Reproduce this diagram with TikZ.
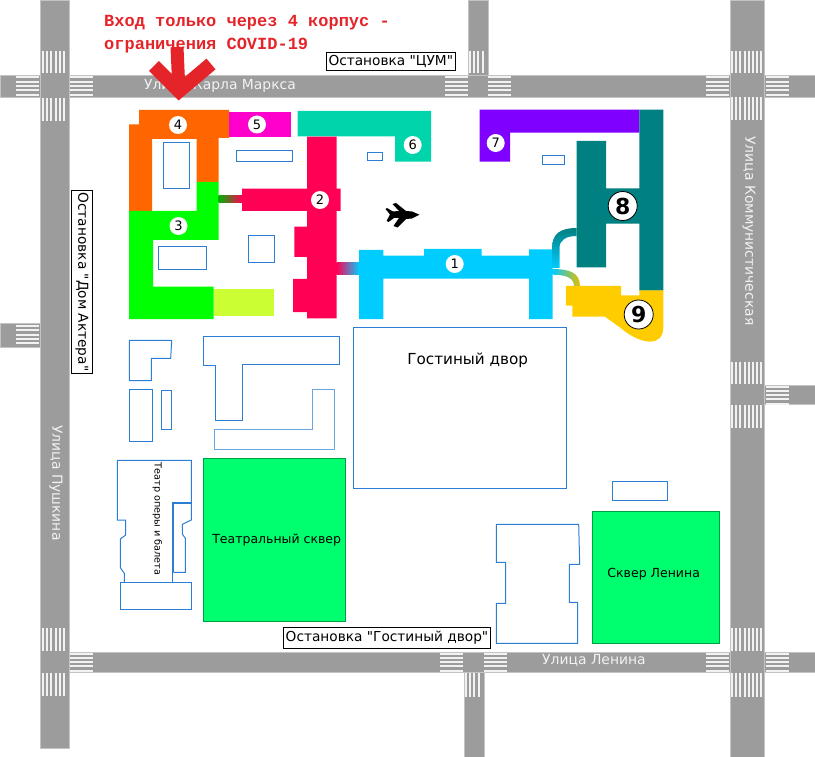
\documentclass[tikz,border=0pt]{standalone}
\usepackage{xcolor}
\usepackage{fontspec}
\setmainfont{DejaVu Sans}[Ligatures=TeXOff]
\newfontfamily\redfont{Liberation Mono}
\usetikzlibrary{positioning}
\definecolor{roadgray}{HTML}{9C9C9C}
\definecolor{zebrawhite}{HTML}{F2F2F2}
\definecolor{outlineblue}{HTML}{2A7FD4}
\definecolor{parkgreen}{HTML}{00FF6E}
\definecolor{parkedge}{HTML}{00A040}
\definecolor{korp1}{HTML}{00CCFF}
\definecolor{korp2}{HTML}{FF0055}
\definecolor{korp3}{HTML}{00FF00}
\definecolor{korp4}{HTML}{FF6600}
\definecolor{korp5}{HTML}{FF00CC}
\definecolor{korp6}{HTML}{00D4AA}
\definecolor{korp7}{HTML}{7F00FF}
\definecolor{korp8}{HTML}{008080}
\definecolor{korp9}{HTML}{FFCC00}
\definecolor{lime}{HTML}{CCFF33}
\definecolor{redmark}{HTML}{E5242A}
\tikzset{
  road/.style={fill=roadgray,draw=roadgray!60,line width=0.6pt},
  zebra/.style={draw=zebrawhite,line width=2pt},
  outl/.style={draw=outlineblue,line width=1pt},
  park/.style={fill=parkgreen,draw=parkedge,line width=1pt},
  stopbox/.style={draw=black,fill=white,line width=1pt,inner xsep=2pt,inner ysep=0pt,minimum height=21pt,font=\fontsize{13.7}{15}\selectfont},
  numdot/.style={circle,fill=white,inner sep=0pt,minimum size=18pt,font=\fontsize{13}{15}\selectfont},
  bignum/.style={circle,fill=white,draw=black,line width=0.8pt,inner sep=0pt,minimum size=29pt,font=\fontsize{22}{24}\selectfont\bfseries},
  roadlabel/.style={text=zebrawhite,inner sep=0pt,font=\fontsize{13.9}{15}\selectfont},
  redlabel/.style={text=redmark,inner sep=0pt,anchor=west,font=\redfont\bfseries\fontsize{17}{19}\selectfont}
}
\newcommand{\zebraV}[4]{\foreach \i in {1,...,#2} \draw[zebra] ({#1+(\i-1)*4.2},#3) -- ({#1+(\i-1)*4.2},#4);}
\newcommand{\zebraH}[3]{\foreach \i in {1,...,5} \draw[zebra] (#1,{#3+(\i-1)*4.3}) -- (#2,{#3+(\i-1)*4.3});}

\begin{document}
\begin{tikzpicture}[x=1pt,y=-1pt]
  \useasboundingbox (0,0) rectangle (815,757);

  \foreach \xa/\ya/\xb/\yb in {
    0/75/815/97, 0/323/40/347, 69/652/815/672, 764/385/815/404,
    40/0/69/748, 468/0/488/75, 464/672/484/757, 730/0/764/757}
    \draw[road] (\xa,\ya) rectangle (\xb,\yb);

  \foreach \xs/\n/\ya/\yb in {
    43/6/51/73, 43/6/98/121, 43/6/628/651, 43/6/673/696,
    470/4/51/73, 466/4/673/697,
    732/8/51/73, 732/8/97/120, 732/8/362/384, 732/8/405/428, 732/8/628/651, 732/8/673/697}
    {\zebraV{\xs}{\n}{\ya}{\yb}}

  \foreach \xa/\xb/\ys in {
    16/39/77.4, 70/93/77.4, 16/39/326, 70/93/653.5,
    445/468/77.4, 488/511/77.4, 440/463/653.5, 484/507/653.5,
    706/729/77.4, 766/789/77.4, 766/789/386.5, 706/729/653.5, 766/789/653.5}
    {\zebraH{\xa}{\xb}{\ys}}

  \fill[korp4] (139,110) -- (229,110) -- (229,138) -- (218.7,138) -- (218.7,182) -- (196.7,182) -- (196.7,139)
    -- (152,139) -- (152,211) -- (129,211) -- (129,124.5) -- (139,124.5) -- cycle;
  \fill[korp3] (196.7,182) -- (218.7,182) -- (218.7,240) -- (153,240) -- (153,286.7) -- (213.7,286.7)
    -- (213.7,319) -- (129,319) -- (129,211) -- (196.7,211) -- cycle;
  \fill[lime] (213.7,288.7) rectangle (273.5,316);
  \fill[korp5] (229,111.7) rectangle (291,136.7);
  \fill[korp6] (297.7,111) -- (431,111) -- (431,161.7) -- (395,161.7) -- (395,136.3) -- (297.7,136.3) -- cycle;
  \fill[korp2] (307,136.7) -- (336.7,136.7) -- (336.7,188.7) -- (340.7,188.7) -- (340.7,211) -- (336.7,211) -- (336.7,318.3)
    -- (307,318.3) -- (307,312) -- (293,312) -- (293,279) -- (307,279) -- (307,257) -- (294.3,257) -- (294.3,226.7)
    -- (307,226.7) -- (307,211) -- (242,211) -- (242,188.7) -- (307,188.7) -- cycle;
  \fill[korp1] (359,250) -- (383.3,250) -- (383.3,255.7) -- (424,255.7) -- (424,249) -- (481.7,249) -- (481.7,255.7)
    -- (529,255.7) -- (529,249.3) -- (552.7,249.3) -- (552.7,319) -- (529,319) -- (529,278.7) -- (383.3,278.7)
    -- (383.3,319) -- (359,319) -- cycle;
  \fill[korp7] (479.7,109.7) -- (639.3,109.7) -- (639.3,132.7) -- (510,132.7) -- (510,161.7) -- (479.7,161.7) -- cycle;
  \fill[korp8] (639.3,109.7) -- (663.3,109.7) -- (663.3,290.5) -- (639.3,290.5) -- (639.3,223.7) -- (606,223.7) -- (606,267.3)
    -- (576.7,267.3) -- (576.7,141) -- (606,141) -- (606,188.3) -- (639.3,188.3) -- cycle;
  \fill[korp9] (566,286) -- (621,286) -- (621,295.3) -- (639.3,295.3) -- (639.3,290.3) -- (663.3,290.3) -- (663.3,328)
    .. controls (663.3,337) and (657,342) .. (650,341.7) .. controls (638,341) and (628,334) .. (620,327.5)
    -- (605,316.7) -- (572.3,316.7) -- (572.3,305.7) -- (566,305.7) -- cycle;

  \shade[left color=korp3!70!black,right color=korp2] (218.7,196) rectangle (242,203);
  \shade[left color=korp2,middle color=outlineblue,right color=korp1] (336.7,263) rectangle (359,275);
  \shade[top color=korp8,middle color=korp8,bottom color=korp1] (576.7,228) .. controls (560,228) and (552,234) .. (552,248)
    -- (552,268) -- (559.5,268) -- (559.5,248) .. controls (559.5,240) and (566,236) .. (576.7,236) -- cycle;
  \shade[left color=korp1,middle color=green!75!black,right color=korp9!80!olive] (552.7,269) .. controls (568,269) and (580,272) .. (580,286)
    -- (574,286) .. controls (574,278) and (566,274.7) .. (552.7,274.7) -- cycle;

  \foreach \xa/\ya/\xb/\yb in {
    163.3/143/189.3/188.3, 236.3/151/292.3/161.5, 248.3/235.5/274.3/262.3, 158.3/247/206.3/269.3,
    367.3/152.5/382.7/160.7, 542.3/156/564.7/164.7, 353.3/327.5/566.7/488.3, 129.3/389.3/152/441.3,
    161.3/390.3/171.7/429.3, 612.3/481.3/667.7/500.3, 120.3/582.3/191.7/609.3}
    \draw[outl] (\xa,\ya) rectangle (\xb,\yb);

  \draw[outl] (129.3,340.3) -- (171.7,340.3) -- (170.7,358.3) -- (151.3,358.3) -- (151.3,380.7) -- (129.3,380.7) -- cycle;
  \draw[outl] (203.3,336.3) -- (339.7,336.3) -- (339.7,364.3) -- (242.3,364.3) -- (242.3,420.3) -- (215.3,420.3) -- (215.3,365.3) -- (203.3,365.3) -- cycle;
  \draw[outl,draw opacity=0.7] (214,429.7) -- (312.3,429.7) -- (312.3,389.7) -- (334.3,389.7) -- (334.3,449.3) -- (214,449.3) -- cycle;
  \draw[outl] (124.3,582.3) -- (124.3,573.3) -- (120.3,567.7) -- (120.3,539) -- (125.7,535) -- (125.7,520) -- (117.3,520) -- (117.3,460.3)
    -- (191.3,460.3) -- (191.3,520) -- (182.3,524.3) -- (182.3,534) -- (185.3,538.3) -- (185.3,572.3) -- (173.3,572.3);
  \draw[outl] (172.7,572.3) -- (172.7,582.3);
  \draw[outl,line width=1.8pt] (191.3,503) -- (173.3,503) -- (173.3,572.3);
  \draw[outl] (496.3,524.3) -- (578.7,524.3) -- (579.7,564.3) -- (569.3,564.3) -- (569.3,602.3) -- (577.7,602.3) -- (577.7,643.3)
    -- (496.3,643.3) -- (496.3,603.3) -- (505.7,603.3) -- (505.7,562.3) -- (496.3,562.3) -- cycle;

  \draw[park] (203.3,458.3) rectangle (345.7,621.7);
  \draw[park] (592.3,511.3) rectangle (719.7,643.3);

  \fill[black] (419.5,214.7) -- (412,211.5) -- (406,211) -- (396,203) -- (392.5,204) -- (399,211) -- (393,211.5) -- (387,208)
    -- (385.5,209) -- (390,214.5) -- (386.5,221) -- (388.5,222) -- (394,218) -- (399,218) -- (393.5,226) -- (397.5,227.5)
    -- (406,219) -- (412,218.5) -- cycle;

  \foreach \name/\x/\y/\num in {
    k1/454.7/264/1, k2/320/200/2, k3/178.5/226/3, k4/178/125/4, k5/257/124.5/5, k6/412.7/145/6, k7/495.7/143/7}
    \node[numdot] (\name) at (\x,\y) {\num};
  \node[bignum] (k8) at (622.7,206) {8};
  \node[bignum] (k9) at (638.7,314.5) {9};

  \node[redlabel] (notice1) at (104,23) {Вход только через 4 корпус -};
  \node[redlabel] (notice2) at (104,46) {ограничения COVID-19};

  \node[stopbox,minimum height=18.4pt] (stopcum) at (390.8,61.5) {Остановка "ЦУМ"};
  \node[stopbox] (stopgost) at (387,637.8) {Остановка "Гостиный двор"};
  \node[stopbox,rotate=-90] (stopdom) at (82,282) {Остановка "Дом Актера"};

  \node[roadlabel] (marx) at (220,85.5) {Улица Карла Маркса};
  \node[roadlabel] (lenin) at (594,660.7) {Улица Ленина};
  \node[roadlabel,rotate=-90] (push) at (56,483) {Улица Пушкина};
  \node[roadlabel,rotate=-90] (komm) at (749,231) {Улица Коммунистическая};

  \node[inner sep=0pt,font=\fontsize{15.2}{17}\selectfont] (gostdvor) at (467.7,360.5) {Гостиный двор};
  \node[inner sep=0pt,font=\fontsize{12.5}{14}\selectfont] (teatrsq) at (276.7,540.5) {Театральный сквер};
  \node[inner sep=0pt,font=\fontsize{12.5}{14}\selectfont] (leninsq) at (653.7,573.8) {Сквер Ленина};
  \node[inner sep=0pt,rotate=-90,font=\fontsize{9.7}{11}\selectfont] (opera) at (157.3,519) {Театр оперы и балета};

  \draw[redmark,line width=13pt] (177,47) -- (179,92);
  \draw[redmark,line width=14pt] (154,66) -- (179,91) -- (211,64);
\end{tikzpicture}
\end{document}
